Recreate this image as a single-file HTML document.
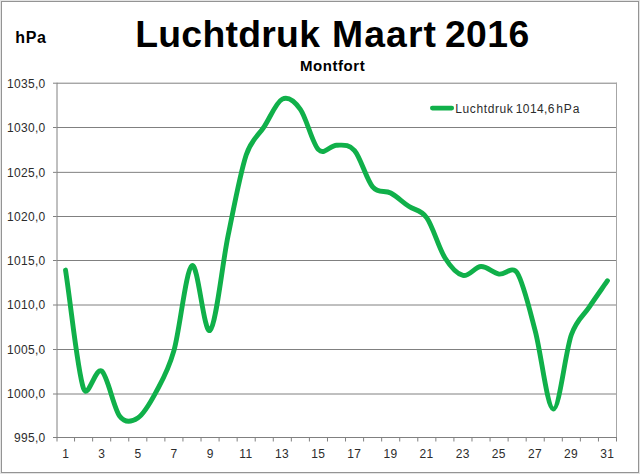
<!DOCTYPE html>
<html lang="nl"><head><meta charset="utf-8"><title>Luchtdruk Maart 2016 - Montfort</title>
<style>html,body{margin:0;padding:0;background:#fff;}body{width:640px;height:474px;overflow:hidden;}svg{display:block;}</style>
</head><body>
<svg width="640" height="474" viewBox="0 0 640 474">
<rect x="0" y="0" width="640" height="474" fill="#ffffff"/>
<rect x="639" y="0" width="1" height="474" fill="#e4e4e4"/>
<rect x="0" y="473" width="640" height="1" fill="#e4e4e4"/>
<rect x="0" y="0" width="1" height="474" fill="#e4e4e4"/>
<rect x="0" y="0" width="640" height="1" fill="#e4e4e4"/>
<rect x="1.5" y="1.5" width="637" height="471" fill="none" stroke="#949494" stroke-width="1"/>
<line x1="56.5" y1="83.20" x2="617.0" y2="83.20" stroke="#808080" stroke-width="1"/>
<line x1="53.0" y1="83.20" x2="56.5" y2="83.20" stroke="#808080" stroke-width="1"/>
<line x1="56.5" y1="127.50" x2="617.0" y2="127.50" stroke="#808080" stroke-width="1"/>
<line x1="53.0" y1="127.50" x2="56.5" y2="127.50" stroke="#808080" stroke-width="1"/>
<line x1="56.5" y1="172.35" x2="617.0" y2="172.35" stroke="#808080" stroke-width="1"/>
<line x1="53.0" y1="172.35" x2="56.5" y2="172.35" stroke="#808080" stroke-width="1"/>
<line x1="56.5" y1="216.50" x2="617.0" y2="216.50" stroke="#808080" stroke-width="1"/>
<line x1="53.0" y1="216.50" x2="56.5" y2="216.50" stroke="#808080" stroke-width="1"/>
<line x1="56.5" y1="260.50" x2="617.0" y2="260.50" stroke="#808080" stroke-width="1"/>
<line x1="53.0" y1="260.50" x2="56.5" y2="260.50" stroke="#808080" stroke-width="1"/>
<line x1="56.5" y1="305.00" x2="617.0" y2="305.00" stroke="#808080" stroke-width="1"/>
<line x1="53.0" y1="305.00" x2="56.5" y2="305.00" stroke="#808080" stroke-width="1"/>
<line x1="56.5" y1="349.50" x2="617.0" y2="349.50" stroke="#808080" stroke-width="1"/>
<line x1="53.0" y1="349.50" x2="56.5" y2="349.50" stroke="#808080" stroke-width="1"/>
<line x1="56.5" y1="394.00" x2="617.0" y2="394.00" stroke="#808080" stroke-width="1"/>
<line x1="53.0" y1="394.00" x2="56.5" y2="394.00" stroke="#808080" stroke-width="1"/>
<line x1="53.0" y1="437.50" x2="56.5" y2="437.50" stroke="#808080" stroke-width="1"/>
<line x1="616.5" y1="82.70" x2="616.5" y2="438.00" stroke="#a6a6a6" stroke-width="1"/>
<line x1="57" y1="82.70" x2="57" y2="441.50" stroke="#808080" stroke-width="1"/>
<line x1="53.0" y1="437.5" x2="617.0" y2="437.5" stroke="#808080" stroke-width="1"/>
<line x1="74.56" y1="437.5" x2="74.56" y2="441.5" stroke="#808080" stroke-width="1"/>
<line x1="92.63" y1="437.5" x2="92.63" y2="441.5" stroke="#808080" stroke-width="1"/>
<line x1="110.69" y1="437.5" x2="110.69" y2="441.5" stroke="#808080" stroke-width="1"/>
<line x1="128.76" y1="437.5" x2="128.76" y2="441.5" stroke="#808080" stroke-width="1"/>
<line x1="146.82" y1="437.5" x2="146.82" y2="441.5" stroke="#808080" stroke-width="1"/>
<line x1="164.89" y1="437.5" x2="164.89" y2="441.5" stroke="#808080" stroke-width="1"/>
<line x1="182.95" y1="437.5" x2="182.95" y2="441.5" stroke="#808080" stroke-width="1"/>
<line x1="201.02" y1="437.5" x2="201.02" y2="441.5" stroke="#808080" stroke-width="1"/>
<line x1="219.08" y1="437.5" x2="219.08" y2="441.5" stroke="#808080" stroke-width="1"/>
<line x1="237.15" y1="437.5" x2="237.15" y2="441.5" stroke="#808080" stroke-width="1"/>
<line x1="255.21" y1="437.5" x2="255.21" y2="441.5" stroke="#808080" stroke-width="1"/>
<line x1="273.27" y1="437.5" x2="273.27" y2="441.5" stroke="#808080" stroke-width="1"/>
<line x1="291.34" y1="437.5" x2="291.34" y2="441.5" stroke="#808080" stroke-width="1"/>
<line x1="309.40" y1="437.5" x2="309.40" y2="441.5" stroke="#808080" stroke-width="1"/>
<line x1="327.47" y1="437.5" x2="327.47" y2="441.5" stroke="#808080" stroke-width="1"/>
<line x1="345.53" y1="437.5" x2="345.53" y2="441.5" stroke="#808080" stroke-width="1"/>
<line x1="363.60" y1="437.5" x2="363.60" y2="441.5" stroke="#808080" stroke-width="1"/>
<line x1="381.66" y1="437.5" x2="381.66" y2="441.5" stroke="#808080" stroke-width="1"/>
<line x1="399.73" y1="437.5" x2="399.73" y2="441.5" stroke="#808080" stroke-width="1"/>
<line x1="417.79" y1="437.5" x2="417.79" y2="441.5" stroke="#808080" stroke-width="1"/>
<line x1="435.85" y1="437.5" x2="435.85" y2="441.5" stroke="#808080" stroke-width="1"/>
<line x1="453.92" y1="437.5" x2="453.92" y2="441.5" stroke="#808080" stroke-width="1"/>
<line x1="471.98" y1="437.5" x2="471.98" y2="441.5" stroke="#808080" stroke-width="1"/>
<line x1="490.05" y1="437.5" x2="490.05" y2="441.5" stroke="#808080" stroke-width="1"/>
<line x1="508.11" y1="437.5" x2="508.11" y2="441.5" stroke="#808080" stroke-width="1"/>
<line x1="526.18" y1="437.5" x2="526.18" y2="441.5" stroke="#808080" stroke-width="1"/>
<line x1="544.24" y1="437.5" x2="544.24" y2="441.5" stroke="#808080" stroke-width="1"/>
<line x1="562.31" y1="437.5" x2="562.31" y2="441.5" stroke="#808080" stroke-width="1"/>
<line x1="580.37" y1="437.5" x2="580.37" y2="441.5" stroke="#808080" stroke-width="1"/>
<line x1="598.44" y1="437.5" x2="598.44" y2="441.5" stroke="#808080" stroke-width="1"/>
<line x1="616.50" y1="437.5" x2="616.50" y2="441.5" stroke="#808080" stroke-width="1"/>
<path d="M65.53,270.09 C71.55,309.66 77.58,371.95 83.60,388.78 C87.86,400.69 95.64,366.49 101.66,371.07 C107.68,375.65 113.70,408.42 119.73,416.24 C125.26,423.43 131.77,422.00 137.79,418.01 C143.81,414.03 149.83,403.55 155.85,392.33 C161.88,381.11 167.90,371.81 173.92,350.70 C179.94,329.59 185.96,269.06 191.98,265.66 C198.01,262.27 204.03,335.34 210.05,330.32 C216.07,325.30 222.09,264.78 228.11,235.55 C234.13,206.32 240.16,173.10 246.18,154.95 C251.47,138.99 258.22,135.90 264.24,126.60 C270.26,117.30 276.28,102.02 282.31,99.14 C288.33,96.26 294.35,100.92 300.37,109.33 C306.39,117.74 312.41,143.65 318.44,149.63 C324.46,155.61 330.48,145.05 336.50,145.20 C342.52,145.35 348.54,143.58 354.56,150.52 C360.59,157.46 366.61,179.75 372.63,186.83 C378.65,193.92 384.67,189.79 390.69,193.03 C396.72,196.28 402.74,202.19 408.76,206.32 C414.78,210.45 420.80,209.27 426.82,217.83 C432.84,226.40 438.87,248.10 444.89,257.69 C450.91,267.29 456.93,273.93 462.95,275.41 C468.97,276.88 474.99,266.77 481.02,266.55 C487.04,266.33 493.06,273.05 499.08,274.08 C505.10,275.11 512.28,265.11 517.15,272.75 C523.17,282.20 529.19,308.03 535.21,330.77 C541.23,353.50 547.25,408.49 553.27,409.16 C559.30,409.82 565.32,351.80 571.34,334.75 C576.87,319.08 583.38,315.86 589.40,306.85 C595.42,297.85 601.45,289.43 607.47,280.72" fill="none" stroke="#10b04a" stroke-width="4.9" stroke-linecap="round" stroke-linejoin="round"/>
<line x1="432.3" y1="108.1" x2="451.8" y2="108.1" stroke="#10b04a" stroke-width="4.6" stroke-linecap="round"/>
<text y="112.7" font-family="&quot;Liberation Sans&quot;, sans-serif" font-size="12" fill="#2c2c2c"><tspan x="455.3" letter-spacing="0.6">Luchtdruk</tspan> <tspan x="515.8" letter-spacing="0.4">1014,6</tspan> <tspan x="556.2" letter-spacing="0.9">hPa</tspan></text>
<text y="47.2" font-family="&quot;Liberation Sans&quot;, sans-serif" font-size="37.33" font-weight="bold" fill="#000"><tspan x="135.2" letter-spacing="0.28">Luchtdruk</tspan> <tspan x="332.0" letter-spacing="1.1">Maart</tspan> <tspan x="444.9" letter-spacing="0.47">2016</tspan></text>
<text x="332.6" y="70.6" font-family="&quot;Liberation Sans&quot;, sans-serif" font-size="15" font-weight="bold" letter-spacing="0.55" text-anchor="middle" fill="#000">Montfort</text>
<text x="15.3" y="43.3" font-family="&quot;Liberation Sans&quot;, sans-serif" font-size="16" font-weight="bold" letter-spacing="0.6" fill="#000">hPa</text>
<text x="45.5" y="87.50" font-family="&quot;Liberation Sans&quot;, sans-serif" font-size="12" letter-spacing="0.28" text-anchor="end" fill="#2c2c2c">1035,0</text>
<text x="45.5" y="131.80" font-family="&quot;Liberation Sans&quot;, sans-serif" font-size="12" letter-spacing="0.28" text-anchor="end" fill="#2c2c2c">1030,0</text>
<text x="45.5" y="176.65" font-family="&quot;Liberation Sans&quot;, sans-serif" font-size="12" letter-spacing="0.28" text-anchor="end" fill="#2c2c2c">1025,0</text>
<text x="45.5" y="220.80" font-family="&quot;Liberation Sans&quot;, sans-serif" font-size="12" letter-spacing="0.28" text-anchor="end" fill="#2c2c2c">1020,0</text>
<text x="45.5" y="264.80" font-family="&quot;Liberation Sans&quot;, sans-serif" font-size="12" letter-spacing="0.28" text-anchor="end" fill="#2c2c2c">1015,0</text>
<text x="45.5" y="309.30" font-family="&quot;Liberation Sans&quot;, sans-serif" font-size="12" letter-spacing="0.28" text-anchor="end" fill="#2c2c2c">1010,0</text>
<text x="45.5" y="353.80" font-family="&quot;Liberation Sans&quot;, sans-serif" font-size="12" letter-spacing="0.28" text-anchor="end" fill="#2c2c2c">1005,0</text>
<text x="45.5" y="398.30" font-family="&quot;Liberation Sans&quot;, sans-serif" font-size="12" letter-spacing="0.28" text-anchor="end" fill="#2c2c2c">1000,0</text>
<text x="45.5" y="441.80" font-family="&quot;Liberation Sans&quot;, sans-serif" font-size="12" letter-spacing="0.28" text-anchor="end" fill="#2c2c2c">995,0</text>
<text x="65.68" y="457.7" font-family="&quot;Liberation Sans&quot;, sans-serif" font-size="12" letter-spacing="0.33" text-anchor="middle" fill="#2c2c2c">1</text>
<text x="101.81" y="457.7" font-family="&quot;Liberation Sans&quot;, sans-serif" font-size="12" letter-spacing="0.33" text-anchor="middle" fill="#2c2c2c">3</text>
<text x="137.94" y="457.7" font-family="&quot;Liberation Sans&quot;, sans-serif" font-size="12" letter-spacing="0.33" text-anchor="middle" fill="#2c2c2c">5</text>
<text x="174.07" y="457.7" font-family="&quot;Liberation Sans&quot;, sans-serif" font-size="12" letter-spacing="0.33" text-anchor="middle" fill="#2c2c2c">7</text>
<text x="210.20" y="457.7" font-family="&quot;Liberation Sans&quot;, sans-serif" font-size="12" letter-spacing="0.33" text-anchor="middle" fill="#2c2c2c">9</text>
<text x="245.93" y="457.7" font-family="&quot;Liberation Sans&quot;, sans-serif" font-size="12" letter-spacing="0.33" text-anchor="middle" fill="#2c2c2c">11</text>
<text x="282.06" y="457.7" font-family="&quot;Liberation Sans&quot;, sans-serif" font-size="12" letter-spacing="0.33" text-anchor="middle" fill="#2c2c2c">13</text>
<text x="318.19" y="457.7" font-family="&quot;Liberation Sans&quot;, sans-serif" font-size="12" letter-spacing="0.33" text-anchor="middle" fill="#2c2c2c">15</text>
<text x="354.31" y="457.7" font-family="&quot;Liberation Sans&quot;, sans-serif" font-size="12" letter-spacing="0.33" text-anchor="middle" fill="#2c2c2c">17</text>
<text x="390.44" y="457.7" font-family="&quot;Liberation Sans&quot;, sans-serif" font-size="12" letter-spacing="0.33" text-anchor="middle" fill="#2c2c2c">19</text>
<text x="426.57" y="457.7" font-family="&quot;Liberation Sans&quot;, sans-serif" font-size="12" letter-spacing="0.33" text-anchor="middle" fill="#2c2c2c">21</text>
<text x="462.70" y="457.7" font-family="&quot;Liberation Sans&quot;, sans-serif" font-size="12" letter-spacing="0.33" text-anchor="middle" fill="#2c2c2c">23</text>
<text x="498.83" y="457.7" font-family="&quot;Liberation Sans&quot;, sans-serif" font-size="12" letter-spacing="0.33" text-anchor="middle" fill="#2c2c2c">25</text>
<text x="534.96" y="457.7" font-family="&quot;Liberation Sans&quot;, sans-serif" font-size="12" letter-spacing="0.33" text-anchor="middle" fill="#2c2c2c">27</text>
<text x="571.09" y="457.7" font-family="&quot;Liberation Sans&quot;, sans-serif" font-size="12" letter-spacing="0.33" text-anchor="middle" fill="#2c2c2c">29</text>
<text x="607.22" y="457.7" font-family="&quot;Liberation Sans&quot;, sans-serif" font-size="12" letter-spacing="0.33" text-anchor="middle" fill="#2c2c2c">31</text>
</svg>
</body></html>
